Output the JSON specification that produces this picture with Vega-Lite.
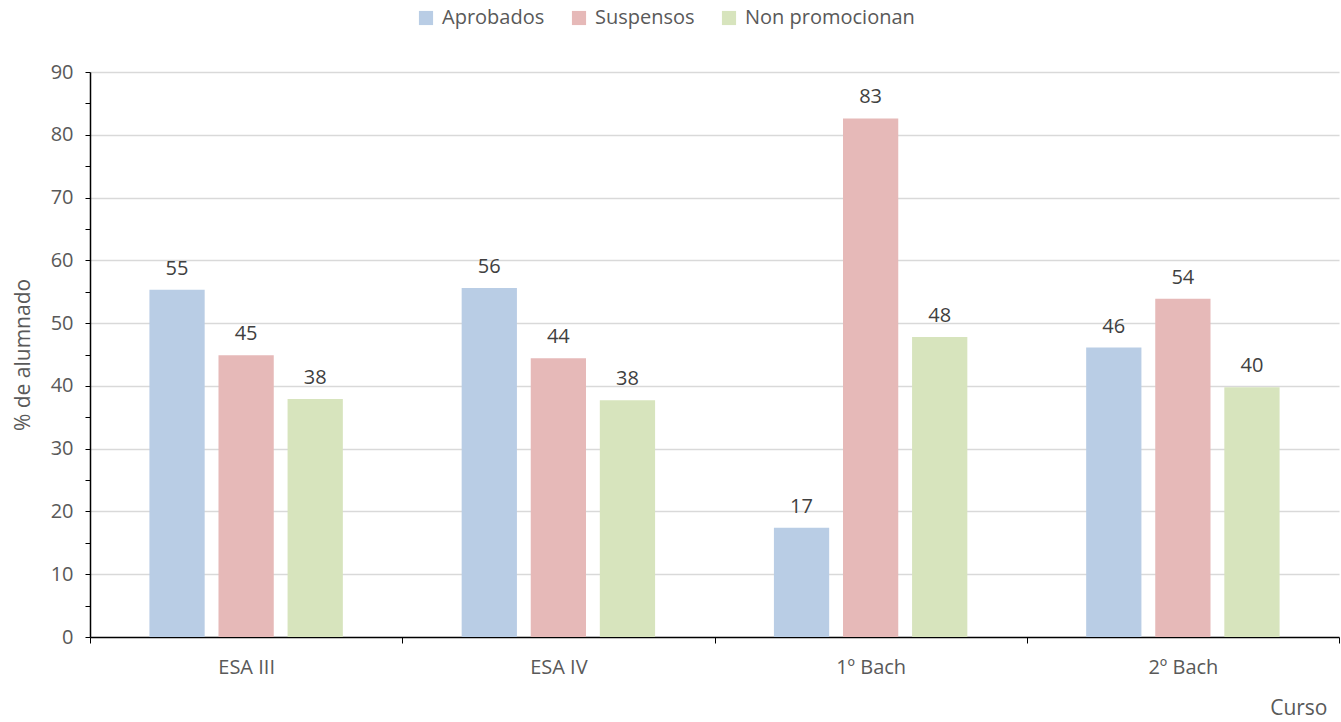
{
  "$schema": "https://vega.github.io/schema/vega-lite/v6.json",
  "autosize": {"type": "none"},
  "width": 1249,
  "height": 565,
  "padding": {"left": 90, "top": 72, "right": 2, "bottom": 85},
  "background": "white",
  "config": {
    "font": "Open Sans",
    "view": {"stroke": null}
  },
  "data": {
    "values": [
      {"curso": "ESA III", "grupo": "Aprobados", "valor": 55.3},
      {"curso": "ESA III", "grupo": "Suspensos", "valor": 44.9},
      {"curso": "ESA III", "grupo": "Non promocionan", "valor": 37.9},
      {"curso": "ESA IV", "grupo": "Aprobados", "valor": 55.6},
      {"curso": "ESA IV", "grupo": "Suspensos", "valor": 44.4},
      {"curso": "ESA IV", "grupo": "Non promocionan", "valor": 37.7},
      {"curso": "1º Bach", "grupo": "Aprobados", "valor": 17.4},
      {"curso": "1º Bach", "grupo": "Suspensos", "valor": 82.6},
      {"curso": "1º Bach", "grupo": "Non promocionan", "valor": 47.8},
      {"curso": "2º Bach", "grupo": "Aprobados", "valor": 46.1},
      {"curso": "2º Bach", "grupo": "Suspensos", "valor": 53.9},
      {"curso": "2º Bach", "grupo": "Non promocionan", "valor": 39.8}
    ]
  },
  "encoding": {
    "x": {
      "field": "curso", "type": "nominal", "sort": ["ESA III", "ESA IV", "1º Bach", "2º Bach"],
      "scale": {"paddingInner": 0, "paddingOuter": 0},
      "axis": {
        "title": "Curso", "titleAnchor": "end", "titleFontSize": 21, "titleFontWeight": "normal",
        "titleColor": "#595959", "titlePadding": 20, "titleX": 1237,
        "labelAngle": 0, "labelFontSize": 20, "labelColor": "#595959", "labelPadding": 14,
        "tickBand": "extent", "tickColor": "#000000", "tickSize": 6,
        "domainColor": "#000000", "domainWidth": 1.5
      }
    },
    "xOffset": {
      "field": "grupo", "type": "nominal", "sort": ["Aprobados", "Suspensos", "Non promocionan"],
      "scale": {"paddingInner": 0.2, "paddingOuter": 0.86}
    },
    "y": {
      "field": "valor", "type": "quantitative",
      "scale": {"domain": [0, 90], "nice": false},
      "axis": {
        "title": "% de alumnado", "titleFontSize": 21, "titleFontWeight": "normal", "titleColor": "#595959",
        "titlePadding": 17,
        "values": [0, 5, 10, 15, 20, 25, 30, 35, 40, 45, 50, 55, 60, 65, 70, 75, 80, 85, 90],
        "labelExpr": "datum.value % 10 === 0 ? datum.label : ''",
        "labelFontSize": 20, "labelColor": "#595959", "labelPadding": 12,
        "tickColor": "#000000", "tickSize": 5,
        "domainColor": "#000000", "domainWidth": 1.5,
        "grid": true, "gridColor": "#d9d9d9", "gridWidth": 1.5,
        "gridOpacity": {"condition": {"test": "datum.value % 10 !== 0 || datum.value === 0", "value": 0}, "value": 1}
      }
    },
    "color": {
      "field": "grupo", "type": "nominal", "sort": ["Aprobados", "Suspensos", "Non promocionan"],
      "scale": {"domain": ["Aprobados", "Suspensos", "Non promocionan"], "range": ["#b9cde5", "#e6b9b8", "#d7e4bd"]},
      "legend": {
        "orient": "none", "legendX": 326, "legendY": -64, "direction": "horizontal", "title": null,
        "symbolType": "square", "symbolSize": 200, "symbolStrokeWidth": 0, "symbolOpacity": 1,
        "labelFontSize": 20, "labelColor": "#595959", "columnPadding": 24, "labelOffset": 6, "labelLimit": 0
      }
    }
  },
  "layer": [
    {"mark": {"type": "bar", "opacity": 1}},
    {
      "mark": {"type": "text", "baseline": "bottom", "dy": -11, "fontSize": 20, "color": "#404040"},
      "encoding": {
        "text": {"field": "valor", "type": "quantitative", "format": ".0f"},
        "color": {"value": "#404040"}
      }
    }
  ]
}
